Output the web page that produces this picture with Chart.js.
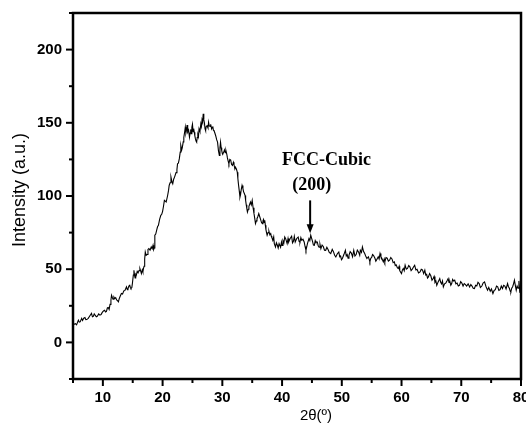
<!DOCTYPE html>
<html>
<head>
<meta charset="utf-8">
<script src="https://cdn.jsdelivr.net/npm/chart.js@4"></script>
<style>
  html, body { margin: 0; padding: 0; background: #fff; }
  #wrap { width: 526px; height: 423px; }
</style>
</head>
<body>
<div id="wrap"><canvas id="xrd" width="526" height="423"></canvas></div>
<script>
// --- data (2θ in degrees, intensity in a.u.) ---
const twoTheta = [
  5.0, 5.2, 5.4, 5.6, 5.9, 6.05, 6.2, 6.45, 6.6, 6.8,
  7.0, 7.15, 7.3, 7.55, 7.8, 8.1, 8.25, 8.4, 8.55, 8.7,
  8.9, 9.1, 9.3, 9.5, 9.7, 9.9, 10.1, 10.3, 10.45, 10.6,
  10.75, 10.9, 11.05, 11.2, 11.35, 11.45, 11.6, 11.7, 11.85, 12.0,
  12.15, 12.3, 12.45, 12.6, 12.75, 12.9, 13.1, 13.3, 13.5, 13.7,
  13.95, 14.1, 14.2, 14.35, 14.5, 14.6, 14.7, 14.85, 14.95, 15.1,
  15.2, 15.3, 15.4, 15.5, 15.6, 15.75, 15.9, 16.05, 16.2, 16.35,
  16.45, 16.6, 16.7, 16.8, 16.9, 17.0, 17.1, 17.25, 17.4, 17.55,
  17.7, 17.9, 18.1, 18.25, 18.4, 18.5, 18.6, 18.7, 18.85, 19.0,
  19.15, 19.3, 19.5, 19.7, 19.85, 20.0, 20.15, 20.3, 20.45, 20.6,
  20.85, 21.0, 21.1, 21.25, 21.4, 21.55, 21.7, 21.85, 22.0, 22.25,
  22.4, 22.5, 22.65, 22.8, 22.95, 23.05, 23.2, 23.3, 23.45, 23.55,
  23.7, 23.8, 23.9, 24.0, 24.1, 24.2, 24.35, 24.5, 24.6, 24.7,
  24.8, 24.9, 25.0, 25.1, 25.2, 25.3, 25.4, 25.5, 25.6, 25.7,
  25.8, 25.9, 26.0, 26.1, 26.25, 26.4, 26.5, 26.6, 26.7, 26.8,
  26.9, 27.0, 27.1, 27.2, 27.3, 27.45, 27.6, 27.7, 27.8, 27.95,
  28.05, 28.2, 28.3, 28.4, 28.5, 28.6, 28.75, 28.9, 29.05, 29.2,
  29.35, 29.5, 29.6, 29.7, 29.8, 29.9, 30.0, 30.1, 30.25, 30.35,
  30.5, 30.6, 30.75, 30.85, 31.0, 31.1, 31.25, 31.4, 31.55, 31.7,
  31.85, 31.95, 32.1, 32.2, 32.35, 32.5, 32.6, 32.7, 32.85, 32.95,
  33.05, 33.15, 33.3, 33.45, 33.55, 33.7, 33.8, 33.9, 34.0, 34.1,
  34.2, 34.35, 34.45, 34.6, 34.7, 34.85, 35.0, 35.15, 35.3, 35.45,
  35.55, 35.7, 35.8, 35.95, 36.1, 36.25, 36.4, 36.55, 36.7, 36.8,
  36.9, 37.0, 37.1, 37.2, 37.3, 37.4, 37.5, 37.65, 37.8, 37.95,
  38.1, 38.2, 38.3, 38.45, 38.6, 38.7, 38.9, 39.05, 39.2, 39.35,
  39.5, 39.75, 39.9, 40.0, 40.15, 40.3, 40.45, 40.6, 40.85, 41.0,
  41.1, 41.35, 41.6, 41.75, 41.9, 42.05, 42.2, 42.45, 42.7, 42.85,
  43.0, 43.15, 43.3, 43.5, 43.7, 43.85, 44.0, 44.25, 44.5, 44.65,
  44.8, 45.1, 45.25, 45.4, 45.55, 45.65, 45.9, 46.05, 46.2, 46.35,
  46.5, 46.7, 46.9, 47.1, 47.3, 47.5, 47.7, 47.9, 48.15, 48.4,
  48.6, 48.8, 49.0, 49.25, 49.5, 49.65, 49.8, 49.95, 50.1, 50.35,
  50.6, 50.75, 50.9, 51.05, 51.2, 51.4, 51.6, 51.8, 52.0, 52.2,
  52.4, 52.6, 52.8, 53.0, 53.1, 53.3, 53.45, 53.65, 53.8, 54.0,
  54.2, 54.45, 54.6, 54.7, 54.85, 55.0, 55.15, 55.3, 55.55, 55.7,
  55.8, 56.1, 56.25, 56.4, 56.55, 56.7, 56.95, 57.1, 57.2, 57.4,
  57.6, 57.8, 58.0, 58.2, 58.4, 58.6, 58.8, 58.95, 59.1, 59.3,
  59.45, 59.6, 59.7, 59.85, 60.0, 60.15, 60.3, 60.45, 60.6, 60.8,
  61.0, 61.2, 61.4, 61.6, 61.8, 62.0, 62.2, 62.4, 62.6, 62.85,
  63.1, 63.3, 63.5, 63.7, 63.9, 64.05, 64.2, 64.35, 64.5, 64.7,
  64.9, 65.1, 65.3, 65.45, 65.6, 65.75, 65.9, 66.15, 66.4, 66.55,
  66.7, 66.85, 67.0, 67.2, 67.4, 67.6, 67.8, 67.95, 68.1, 68.25,
  68.4, 68.55, 68.7, 68.9, 69.1, 69.3, 69.5, 69.7, 69.9, 70.1,
  70.3, 70.5, 70.7, 70.9, 71.15, 71.4, 71.6, 71.8, 72.0, 72.2,
  72.4, 72.6, 72.8, 73.0, 73.2, 73.45, 73.65, 73.9, 74.15, 74.4,
  74.6, 74.85, 75.05, 75.3, 75.5, 75.7, 75.9, 76.1, 76.3, 76.5,
  76.7, 76.9, 77.1, 77.3, 77.5, 77.75, 77.9, 78.05, 78.2, 78.3,
  78.45, 78.6, 78.75, 78.9, 79.05, 79.2, 79.35, 79.5, 79.65, 79.8,
  80.0
];
const intensity = [
  11.5, 12.5, 12.8, 12.0, 15.2, 13.8, 14.0, 16.4, 15.0, 16.5,
  17.0, 15.5, 15.6, 16.4, 18.0, 19.8, 17.5, 17.8, 19.5, 18.6,
  17.5, 18.0, 19.5, 18.6, 19.0, 20.5, 21.5, 22.0, 20.8, 21.2,
  23.5, 23.8, 22.5, 26.0, 29.0, 32.2, 30.5, 29.5, 31.0, 30.0,
  30.5, 29.0, 28.5, 27.7, 30.0, 31.5, 33.4, 33.0, 35.2, 35.5,
  37.9, 36.0, 36.5, 38.5, 39.0, 37.5, 36.8, 37.5, 40.5, 46.0,
  49.3, 46.0, 44.0, 46.5, 45.9, 48.5, 47.5, 49.0, 50.4, 48.5,
  47.0, 49.5, 48.1, 50.5, 52.0, 57.0, 61.8, 59.5, 60.0, 63.5,
  64.1, 63.0, 65.2, 64.0, 66.3, 63.5, 64.5, 73.2, 74.0, 76.6,
  79.0, 80.0, 84.0, 86.8, 87.5, 89.5, 93.0, 97.0, 96.5, 95.9,
  100.5, 104.0, 107.2, 109.0, 112.9, 110.0, 108.4, 111.5, 112.9, 116.0,
  118.0, 122.0, 122.5, 125.5, 130.0, 134.5, 131.5, 133.0, 137.0, 140.0,
  144.0, 147.0, 143.0, 145.0, 148.5, 143.6, 145.0, 140.2, 143.0, 145.5,
  142.5, 147.0, 149.0, 144.0, 146.0, 143.6, 141.0, 139.0, 137.5, 136.8,
  140.0, 142.0, 140.5, 145.9, 144.0, 149.3, 147.5, 152.0, 150.5, 156.1,
  152.0, 150.0, 146.0, 144.7, 147.5, 148.0, 146.5, 150.4, 148.0, 147.5,
  149.0, 145.9, 147.0, 147.5, 145.0, 144.7, 143.0, 141.0, 138.5, 136.8,
  131.0, 127.7, 133.0, 136.8, 133.0, 131.0, 129.0, 128.9, 130.0, 131.5,
  129.5, 131.1, 128.5, 126.0, 123.5, 122.0, 125.0, 124.5, 121.5, 120.9,
  123.0, 121.5, 118.5, 119.7, 118.5, 116.3, 112.0, 108.0, 103.0, 99.3,
  101.0, 104.0, 107.2, 105.0, 103.0, 101.5, 100.4, 97.0, 94.0, 91.5,
  89.0, 91.0, 93.0, 94.5, 95.9, 94.0, 97.0, 92.0, 88.0, 84.0,
  81.1, 83.0, 84.5, 86.0, 88.0, 86.0, 84.0, 82.0, 81.1, 83.0,
  84.0, 82.0, 83.4, 80.0, 77.0, 75.0, 73.2, 75.0, 76.0, 73.5,
  74.3, 72.5, 71.5, 69.7, 72.0, 67.5, 65.2, 68.0, 66.5, 64.5,
  67.5, 65.0, 68.5, 66.3, 69.5, 68.0, 72.0, 70.9, 67.5, 71.0,
  68.6, 71.0, 72.5, 68.0, 69.0, 72.5, 68.6, 71.0, 72.0, 69.0,
  68.5, 71.5, 69.7, 70.5, 68.6, 65.5, 62.9, 67.5, 70.9, 69.5,
  73.2, 69.0, 66.5, 66.3, 69.5, 68.5, 68.6, 66.0, 65.0, 67.0,
  64.1, 66.5, 65.5, 63.0, 62.9, 65.0, 63.5, 61.5, 60.7, 63.5,
  62.0, 59.5, 58.4, 60.5, 61.8, 58.5, 59.0, 56.5, 57.3, 60.0,
  62.9, 59.0, 60.0, 57.5, 59.5, 62.0, 61.0, 58.5, 62.9, 59.0,
  60.0, 63.0, 61.8, 59.5, 63.0, 61.5, 65.2, 62.0, 61.0, 59.0,
  57.3, 58.5, 56.5, 55.0, 57.5, 58.0, 60.0, 59.5, 57.5, 55.5,
  56.1, 58.5, 57.0, 60.7, 58.5, 57.5, 55.0, 57.0, 55.0, 58.0,
  57.5, 55.5, 56.1, 58.0, 57.0, 54.5, 55.0, 52.5, 53.0, 51.0,
  50.4, 52.0, 49.0, 48.0, 47.0, 49.5, 50.5, 49.0, 52.7, 50.0,
  50.5, 52.5, 51.6, 49.0, 50.0, 51.5, 52.7, 49.5, 50.0, 47.5,
  48.1, 50.0, 49.5, 47.0, 49.3, 46.0, 46.5, 44.0, 44.7, 47.0,
  45.5, 42.5, 43.6, 45.0, 41.0, 42.0, 39.0, 41.5, 43.6, 41.0,
  40.0, 42.0, 37.9, 40.0, 40.5, 42.0, 43.6, 41.0, 41.5, 39.0,
  40.2, 43.0, 42.0, 42.5, 40.0, 40.5, 38.5, 39.0, 41.5, 40.5,
  38.5, 40.2, 39.5, 38.5, 40.0, 37.9, 39.5, 38.5, 37.0, 36.8,
  39.0, 38.5, 41.0, 40.2, 37.5, 38.5, 40.5, 41.3, 38.0, 35.7,
  37.5, 35.0, 36.5, 33.4, 35.5, 36.0, 38.5, 37.9, 35.5, 36.0,
  38.5, 36.8, 39.0, 38.5, 36.5, 40.2, 38.0, 37.0, 35.0, 34.5,
  37.0, 38.0, 40.0, 42.5, 39.0, 35.7, 38.5, 37.0, 42.0, 34.5,
  35.5
];

// axis ranges and tick spacing
const xRange = [5, 80];
const yRange = [-25, 225];
const xStep = 5;
const yStep = 25;

// peak annotation (data coordinates)
const peakText = ['FCC-Cubic', '(200)'];
const peakTextX = [47.45, 44.95];
const peakTextY = [124.3, 107.3];
const arrowX = 44.7;
const arrowFrom = 97;
const arrowTo = 74.5;

const xTitle = '2θ(º)';
const yTitle = 'Intensity (a.u.)';

const sans = '"Liberation Sans", Arial, sans-serif';
const serif = '"Liberation Serif", "Times New Roman", serif';

// frame, outward ticks, axis titles and the peak label
const decorations = {
  id: 'decorations',
  afterDraw(chart) {
    const { ctx, chartArea: a, scales: { x, y } } = chart;
    ctx.save();
    ctx.strokeStyle = '#000';
    ctx.fillStyle = '#000';

    // outward ticks, long ones on labelled values
    ctx.lineWidth = 2;
    x.ticks.forEach(t => {
      const px = x.getPixelForValue(t.value);
      const len = t.value % 10 === 0 ? 7 : 4;
      ctx.beginPath(); ctx.moveTo(px, a.bottom); ctx.lineTo(px, a.bottom + len); ctx.stroke();
    });
    y.ticks.forEach(t => {
      const py = y.getPixelForValue(t.value);
      const len = t.value % 50 === 0 ? 7 : 4;
      ctx.beginPath(); ctx.moveTo(a.left, py); ctx.lineTo(a.left - len, py); ctx.stroke();
    });

    // box
    ctx.lineWidth = 2.5;
    ctx.strokeRect(a.left, a.top, a.right - a.left, a.bottom - a.top);

    // axis titles
    ctx.font = '15px ' + sans;
    ctx.textAlign = 'center';
    ctx.textBaseline = 'middle';
    ctx.fillText(xTitle, (a.left + a.right) / 2 + 19, 416);
    ctx.save();
    ctx.translate(20, (a.top + a.bottom) / 2 - 6);
    ctx.rotate(-Math.PI / 2);
    ctx.font = '18px ' + sans;
    ctx.fillText(yTitle, 0, 0);
    ctx.restore();

    // peak label + arrow
    ctx.font = 'bold 18px ' + serif;
    peakText.forEach((s, i) => {
      ctx.fillText(s, x.getPixelForValue(peakTextX[i]), y.getPixelForValue(peakTextY[i]));
    });
    const ax = x.getPixelForValue(arrowX);
    const y0 = y.getPixelForValue(arrowFrom);
    const y1 = y.getPixelForValue(arrowTo);
    ctx.lineWidth = 2;
    ctx.beginPath(); ctx.moveTo(ax, y0); ctx.lineTo(ax, y1 - 6); ctx.stroke();
    ctx.beginPath();
    ctx.moveTo(ax - 3.5, y1 - 9);
    ctx.lineTo(ax + 3.5, y1 - 9);
    ctx.lineTo(ax, y1);
    ctx.closePath();
    ctx.fill();
    ctx.restore();
  }
};

new Chart(document.getElementById('xrd'), {
  type: 'line',
  data: {
    datasets: [{
      data: twoTheta.map((t, i) => ({ x: t, y: intensity[i] })),
      borderColor: '#000',
      borderWidth: 1.1,
      pointRadius: 0,
      tension: 0,
      fill: false
    }]
  },
  options: {
    responsive: false,
    animation: false,
    layout: { padding: { top: 13, right: 5, bottom: 0, left: 0 } },
    plugins: { legend: { display: false }, tooltip: { enabled: false } },
    scales: {
      x: {
        type: 'linear',
        min: xRange[0],
        max: xRange[1],
        border: { display: false },
        grid: { drawOnChartArea: false, drawTicks: true, tickLength: 7, tickColor: 'rgba(0,0,0,0)' },
        ticks: {
          stepSize: xStep,
          autoSkip: false,
          maxRotation: 0,
          padding: 3,
          color: '#000',
          font: { family: sans, size: 15, weight: 'bold' },
          callback: v => (v % 10 === 0 ? String(v) : '')
        },
        afterFit(scale) {
          scale.height = 44;
          scale.paddingLeft = 0;
          scale.paddingRight = 0;
        }
      },
      y: {
        min: yRange[0],
        max: yRange[1],
        border: { display: false },
        grid: { drawOnChartArea: false, drawTicks: true, tickLength: 7, tickColor: 'rgba(0,0,0,0)' },
        ticks: {
          stepSize: yStep,
          autoSkip: false,
          padding: 4,
          color: '#000',
          font: { family: sans, size: 15, weight: 'bold' },
          callback: v => (v % 50 === 0 ? String(v) : '')
        },
        afterFit(scale) {
          scale.width = 73;
          scale.paddingTop = 0;
          scale.paddingBottom = 0;
        }
      }
    }
  },
  plugins: [decorations]
});
</script>
</body>
</html>
